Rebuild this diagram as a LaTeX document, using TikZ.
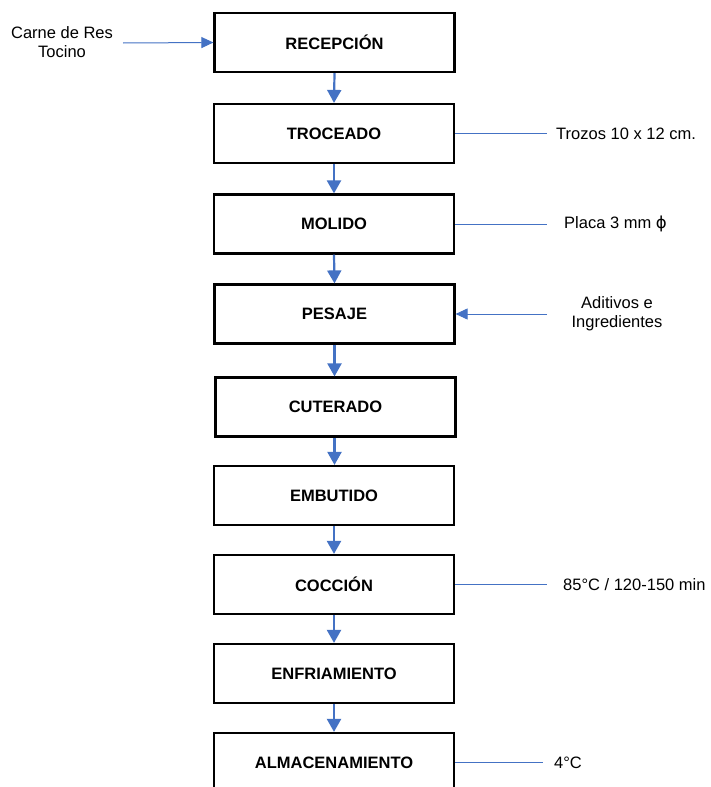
\documentclass[tikz,border=0pt]{standalone}
\usepackage{fontspec}
\setmainfont{Liberation Sans}
\newfontfamily\symfont{DejaVu Sans}
\usetikzlibrary{arrows.meta}
\definecolor{flowblue}{RGB}{68,114,196}
\tikzset{
  stepbox/.style={draw=black, line width=2.2pt, minimum width=240pt, minimum height=59pt,
    inner sep=0pt, font=\fontsize{16.5}{19}\selectfont\bfseries},
  mainflow/.style={draw=flowblue, line width=2.2pt, -{Triangle[width=14pt,length=13pt]}},
  sideflow/.style={draw=flowblue, line width=1pt, -{Triangle[width=11pt,length=12pt]}},
  sideline/.style={draw=flowblue, line width=0.9pt},
  note/.style={font=\fontsize{16.5}{19}\selectfont, inner sep=0pt, align=center}
}
\begin{document}
\begin{tikzpicture}[x=1pt,y=-1pt]
\useasboundingbox (0,0) rectangle (710,787);
\fill[white] (0,0) rectangle (710,787);
\clip (0,0) rectangle (710,787);

\node[stepbox] (rec) at (334.5,42.5) {RECEPCIÓN};
\node[stepbox] (tro) at (334,133.5) {TROCEADO};
\node[stepbox] (mol) at (334,224) {MOLIDO};
\node[stepbox] (pes) at (334.5,314) {PESAJE};
\node[stepbox] (cut) at (335.5,407) {CUTERADO};
\node[stepbox] (emb) at (334,495.5) {EMBUTIDO};
\node[stepbox] (coc) at (334,584.5) {COCCIÓN};
\node[stepbox] (enf) at (334,673.5) {ENFRIAMIENTO};
\node[stepbox] (alm) at (334,762.5) {ALMACENAMIENTO};

\draw[mainflow] (rec.south) -- (tro.north);
\draw[mainflow] (tro.south) -- (mol.north);
\draw[mainflow] (mol.south) -- (pes.north);
\draw[mainflow] (pes.south) -- (cut.north -| pes.south);
\draw[mainflow] (cut.south -| pes.south) -- (emb.north -| pes.south);
\draw[mainflow] (emb.south) -- (coc.north);
\draw[mainflow] (coc.south) -- (enf.north);
\draw[mainflow] (enf.south) -- (alm.north);

% inputs
\node[note] (carne) at (62,42.5) {Carne de Res\\Tocino};
\coordinate (carneEnd) at (123,43);
\draw[sideflow] (carneEnd) -- (rec.west);

\node[note] (adit) at (617,313.5) {Aditivos e\\Ingredientes};
\coordinate (aditEnd) at (547,314);
\draw[sideflow] (aditEnd) -- (pes.east);

% annotations
\coordinate (troEnd) at (547,133.5);
\draw[sideline] (tro.east) -- (troEnd);
\node[note, anchor=west] (troTxt) at (556,133.5) {Trozos 10 x 12 cm.};

\coordinate (molEnd) at (547,224);
\draw[sideline] (mol.east) -- (molEnd);
\node[note, anchor=west] (molTxt) at (564,224) {Placa 3 mm {\symfont ϕ}};

\coordinate (cocEnd) at (547,584.5);
\draw[sideline] (coc.east) -- (cocEnd);
\node[note, anchor=west] (cocTxt) at (563,584.5) {85°C / 120-150 min};

\coordinate (almEnd) at (543,762.5);
\draw[sideline] (alm.east) -- (almEnd);
\node[note, anchor=west] (almTxt) at (554,762.5) {4°C};
\end{tikzpicture}
\end{document}
